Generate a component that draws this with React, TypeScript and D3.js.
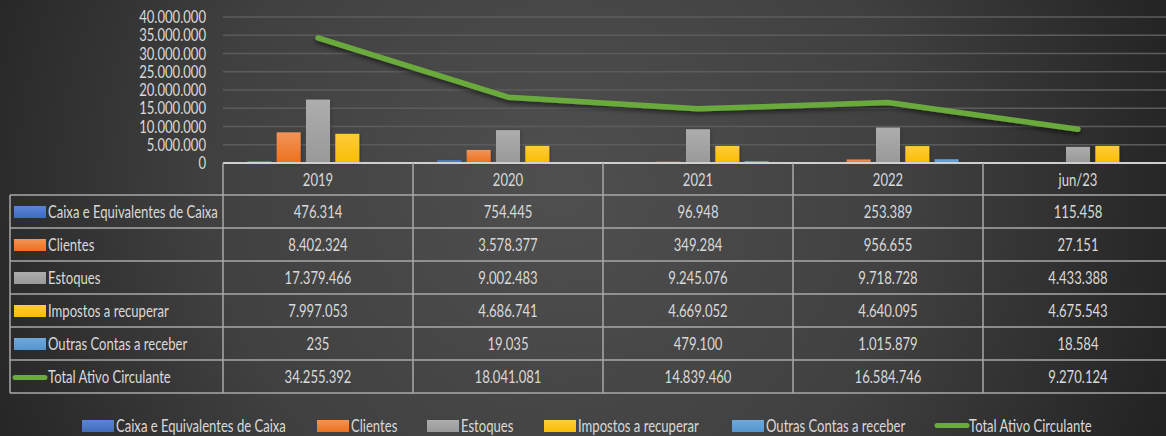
import React from "react";
import * as d3 from "d3";

const categories = ["2019", "2020", "2021", "2022", "jun/23"];
const seriesNames = [
  "Caixa e Equivalentes de Caixa",
  "Clientes",
  "Estoques",
  "Impostos a recuperar",
  "Outras Contas a receber",
];
const caixa = [476314, 754445, 96948, 253389, 115458];
const clientes = [8402324, 3578377, 349284, 956655, 27151];
const estoques = [17379466, 9002483, 9245076, 9718728, 4433388];
const impostos = [7997053, 4686741, 4669052, 4640095, 4675543];
const outras = [235, 19035, 479100, 1015879, 18584];
const totalName = "Total Ativo Circulante";
const total = [34255392, 18041081, 14839460, 16584746, 9270124];
const yTicks = [0, 5000000, 10000000, 15000000, 20000000, 25000000, 30000000, 35000000, 40000000];

const barSeries = [caixa, clientes, estoques, impostos, outras];
const colors = [
  ["#5a86d4", "#3f6cbf"],
  ["#f29456", "#ec7020"],
  ["#adadad", "#999999"],
  ["#ffcb3d", "#f7be00"],
  ["#6fa9dc", "#5595cf"],
];
const lineColor = "#6aaa3e";
const textColor = "#d9d9d9";
const gridColor = "#5c5c5c";
const tableLine = "#a8a8a8";

const W = 1166;
const H = 436;
const FONT = "Lato, 'Noto Sans', sans-serif";
const FS = 17;
const SX = 0.77;
const fmt = (v: number) => d3.format(",")(v).replace(/,/g, ".");

function T(props: { x: number; y: number; anchor?: string; fs?: number; children: React.ReactNode }) {
  return (
    <text
      transform={`translate(${props.x},${props.y}) scale(${SX},1)`}
      textAnchor={props.anchor || "start"}
      dy="0.36em"
      fill={textColor}
      fontSize={props.fs || FS}
      fontFamily={FONT}
    >
      {props.children}
    </text>
  );
}

export default function App() {
  const plotLeft = 223;
  const plotRight = 1173;
  const plotTop = 17;
  const plotBottom = 163;
  const tableLeft = 10;
  const rowH = 33;
  const headerBottom = 195;
  const x0 = d3.scaleBand<string>().domain(categories).range([plotLeft, plotRight]);
  const x1 = d3
    .scaleBand<string>()
    .domain(seriesNames)
    .range([0, x0.bandwidth()])
    .paddingInner(0.18)
    .paddingOuter(0.83);
  const y = d3.scaleLinear().domain([0, 40000000]).range([plotBottom, plotTop]);
  const cx = (i: number) => (x0(categories[i]) as number) + x0.bandwidth() / 2;
  const line = d3
    .line<number>()
    .x((_, i) => cx(i))
    .y((d) => y(d));

  const rows = [
    ...seriesNames.map((n, i) => ({ name: n, vals: barSeries[i], kind: "bar", ci: i })),
    { name: totalName, vals: total, kind: "line", ci: -1 },
  ];
  const tableBottom = headerBottom + rows.length * rowH;

  const legendItems = [
    { x: 82, name: seriesNames[0], ci: 0 },
    { x: 317, name: seriesNames[1], ci: 1 },
    { x: 427, name: seriesNames[2], ci: 2 },
    { x: 544, name: seriesNames[3], ci: 3 },
    { x: 732, name: seriesNames[4], ci: 4 },
    { x: 935, name: totalName, ci: -1 },
  ];

  return (
    <svg
      width={W}
      height={H}
      style={{ position: "absolute", left: 0, top: 0, display: "block" }}
    >
      <defs>
        <radialGradient id="bg" gradientUnits="userSpaceOnUse" cx={560} cy={190} r={640}>
          <stop offset="0" stopColor="#4f4f4f" />
          <stop offset="0.55" stopColor="#404040" />
          <stop offset="1" stopColor="#232323" />
        </radialGradient>
        {colors.map((c, i) => (
          <linearGradient key={i} id={`g${i}`} x1="0" y1="0" x2="0" y2="1">
            <stop offset="0" stopColor={c[0]} />
            <stop offset="1" stopColor={c[1]} />
          </linearGradient>
        ))}
        <filter id="sh" x="-10%" y="-50%" width="120%" height="200%">
          <feDropShadow dx="0" dy="3" stdDeviation="2" floodColor="#000" floodOpacity="0.5" />
        </filter>
        <filter id="bsh" x="-30%" y="-10%" width="160%" height="120%">
          <feDropShadow dx="1" dy="1" stdDeviation="1.5" floodColor="#000" floodOpacity="0.3" />
        </filter>
      </defs>
      <rect x={0} y={0} width={W} height={H} fill="url(#bg)" />

      {yTicks.slice(1).map((t) => (
        <line key={t} x1={plotLeft} x2={W} y1={y(t)} y2={y(t)} stroke={gridColor} strokeWidth={1.5} />
      ))}
      {yTicks.map((t) => (
        <T key={"l" + t} x={206} y={y(t)} anchor="end">
          {fmt(t)}
        </T>
      ))}

      {barSeries.map((vals, si) =>
        vals.map((v, ci) => {
          const bx = (x0(categories[ci]) as number) + (x1(seriesNames[si]) as number);
          const by = y(v);
          return (
            <rect
              key={si + "-" + ci}
              x={bx}
              y={by}
              width={x1.bandwidth()}
              height={Math.max(0, plotBottom - by)}
              fill={`url(#g${si})`}
              filter="url(#bsh)"
            />
          );
        })
      )}

      <path
        d={line(total) || ""}
        fill="none"
        stroke={lineColor}
        strokeWidth={5.5}
        strokeLinecap="round"
        strokeLinejoin="round"
        filter="url(#sh)"
      />

      <line x1={plotLeft} x2={W} y1={plotBottom} y2={plotBottom} stroke="#cfcfcf" strokeWidth={2} />
      {rows.map((_, i) => (
        <line
          key={"h" + i}
          x1={tableLeft}
          x2={W}
          y1={headerBottom + i * rowH}
          y2={headerBottom + i * rowH}
          stroke={tableLine}
          strokeWidth={1.5}
        />
      ))}
      <line x1={tableLeft} x2={W} y1={tableBottom} y2={tableBottom} stroke={tableLine} strokeWidth={1.5} />
      <line x1={tableLeft} x2={tableLeft} y1={headerBottom} y2={tableBottom} stroke={tableLine} strokeWidth={1.5} />
      {categories.map((c) => (
        <line
          key={"v" + c}
          x1={x0(c) as number}
          x2={x0(c) as number}
          y1={plotBottom}
          y2={tableBottom}
          stroke={tableLine}
          strokeWidth={1.5}
        />
      ))}
      {categories.map((c, i) => (
        <T key={"c" + c} x={cx(i)} y={(plotBottom + headerBottom) / 2 + 1} anchor="middle">
          {c}
        </T>
      ))}
      {rows.map((r, i) => {
        const cy = headerBottom + i * rowH + rowH / 2;
        return (
          <g key={"r" + i}>
            {r.kind === "bar" ? (
              <rect x={14} y={cy - 5.5} width={32} height={12} fill={`url(#g${r.ci})`} />
            ) : (
              <line x1={15} x2={45} y1={cy + 1} y2={cy + 1} stroke={lineColor} strokeWidth={5} strokeLinecap="round" />
            )}
            <T x={48} y={cy}>
              {r.name}
            </T>
            {r.vals.map((v, ci) => (
              <T key={ci} x={cx(ci)} y={cy} anchor="middle">
                {fmt(v)}
              </T>
            ))}
          </g>
        );
      })}

      {legendItems.map((it) => (
        <g key={"lg" + it.name}>
          {it.ci >= 0 ? (
            <rect x={it.x} y={420} width={32} height={12} fill={`url(#g${it.ci})`} />
          ) : (
            <line x1={it.x + 2} x2={it.x + 32} y1={425.5} y2={425.5} stroke={lineColor} strokeWidth={5} strokeLinecap="round" />
          )}
          <T x={it.x + 34} y={425.5}>
            {it.name}
          </T>
        </g>
      ))}
    </svg>
  );
}
